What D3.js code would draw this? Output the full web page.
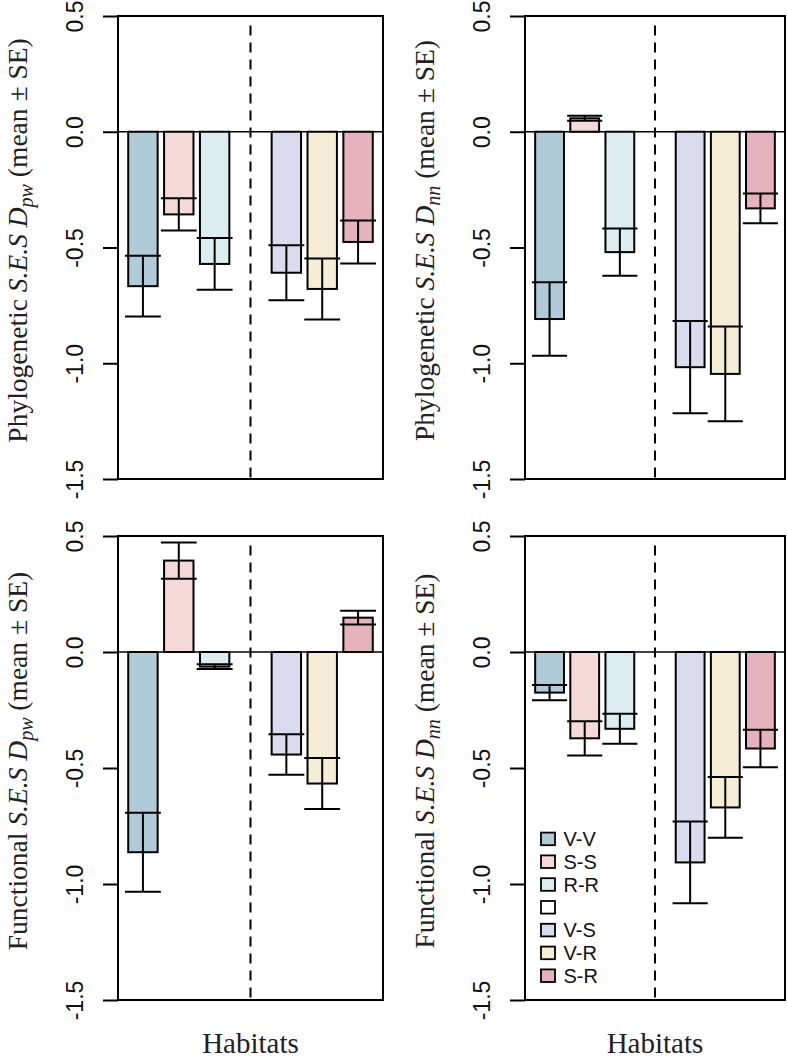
<!DOCTYPE html>
<html>
<head>
<meta charset="utf-8">
<script src="https://cdn.jsdelivr.net/npm/d3@7"></script>
<style>
  html, body { margin: 0; padding: 0; background: #ffffff; }
  svg { display: block; }
</style>
</head>
<body>
<div id="chart"></div>
<script>
// ---------------- data ----------------
const categories = ["V-V", "S-S", "R-R", "", "V-S", "V-R", "S-R"];
const colors = ["#aecbd7", "#f4d9d8", "#dcedef", "#ffffff", "#dadbee", "#f5eed5", "#e6b2be"];

const phyloPwMean = [-0.667, -0.357, -0.571, null, -0.609, -0.679, -0.476];
const phyloPwSE   = [0.131, 0.070, 0.112, null, 0.119, 0.132, 0.093];

const phyloNnMean = [-0.809, 0.058, -0.520, null, -1.017, -1.046, -0.331];
const phyloNnSE   = [0.159, 0.011, 0.102, null, 0.199, 0.205, 0.064];

const funcPwMean = [-0.863, 0.394, -0.063, null, -0.442, -0.567, 0.148];
const funcPwSE   = [0.170, 0.078, 0.010, null, 0.087, 0.110, 0.030];

const funcNnMean = [-0.175, -0.372, -0.331, null, -0.907, -0.670, -0.416];
const funcNnSE   = [0.033, 0.074, 0.065, null, 0.176, 0.131, 0.081];

const yTicks = [0.5, 0.0, -0.5, -1.0, -1.5];
const yTickLabels = ["0.5", "0.0", "-0.5", "-1.0", "-1.5"];
const yDomain = [-1.5, 0.5];

const xTitle = "Habitats";
const legendLabels = categories;

// ---------------- layout ----------------
const W = 787, H = 1062;
const panels = [
  { x0: 118, x1: 383, y0: 16,  y1: 479,  mean: phyloPwMean, se: phyloPwSE, lead: "Phylogenetic", sub: "pw", xlab: false, legend: false },
  { x0: 525, x1: 785, y0: 16,  y1: 479,  mean: phyloNnMean, se: phyloNnSE, lead: "Phylogenetic", sub: "nn", xlab: false, legend: false },
  { x0: 118, x1: 383, y0: 536, y1: 1000, mean: funcPwMean,  se: funcPwSE,  lead: "Functional",   sub: "pw", xlab: true,  legend: false },
  { x0: 525, x1: 785, y0: 536, y1: 1000, mean: funcNnMean,  se: funcNnSE,  lead: "Functional",   sub: "nn", xlab: true,  legend: true }
];

const svg = d3.select("#chart").append("svg")
  .attr("width", W).attr("height", H)
  .attr("viewBox", `0 0 ${W} ${H}`);

const sans = "'Liberation Sans', Arial, sans-serif";
const serif = "'Liberation Serif', 'Times New Roman', serif";

panels.forEach(p => {
  const g = svg.append("g");
  const y = d3.scaleLinear().domain(yDomain).range([p.y1, p.y0]);
  const x = d3.scaleBand().domain(d3.range(categories.length))
    .range([p.x0 + 7, p.x1 - 7]).paddingInner(0.18).paddingOuter(0.09);
  const bw = x.bandwidth();
  const capHalf = x.step() / 2;

  // zero line
  g.append("line")
    .attr("x1", p.x0).attr("x2", p.x1)
    .attr("y1", y(0)).attr("y2", y(0))
    .attr("stroke", "#000").attr("stroke-width", 1.4);

  // dashed separator at the empty slot
  const sepX = x(3) + bw / 2;
  g.append("line")
    .attr("x1", sepX).attr("x2", sepX)
    .attr("y1", p.y0 + 9.5).attr("y2", p.y1)
    .attr("stroke", "#000").attr("stroke-width", 2)
    .attr("stroke-dasharray", "10,7");

  const idx = d3.range(categories.length).filter(i => p.mean[i] !== null);

  // bars
  g.selectAll("rect.bar").data(idx).join("rect")
    .attr("class", "bar")
    .attr("x", i => x(i))
    .attr("width", bw)
    .attr("y", i => y(Math.max(0, p.mean[i])))
    .attr("height", i => Math.abs(y(p.mean[i]) - y(0)))
    .attr("fill", i => colors[i])
    .attr("stroke", "#000").attr("stroke-width", 2);

  // error bars
  const eb = g.selectAll("g.err").data(idx).join("g").attr("class", "err");
  eb.append("line")
    .attr("x1", i => x(i) + bw / 2).attr("x2", i => x(i) + bw / 2)
    .attr("y1", i => y(p.mean[i] - p.se[i])).attr("y2", i => y(p.mean[i] + p.se[i]))
    .attr("stroke", "#000").attr("stroke-width", 2);
  [-1, 1].forEach(s => {
    eb.append("line")
      .attr("x1", i => x(i) + bw / 2 - capHalf).attr("x2", i => x(i) + bw / 2 + capHalf)
      .attr("y1", i => y(p.mean[i] + s * p.se[i])).attr("y2", i => y(p.mean[i] + s * p.se[i]))
      .attr("stroke", "#000").attr("stroke-width", 2);
  });

  // y axis
  const ax = g.append("g").attr("transform", `translate(${p.x0},0)`)
    .call(d3.axisLeft(y).tickValues(yTicks).tickSize(15)
      .tickFormat((d, i) => yTickLabels[i]));
  ax.select(".domain").remove();
  ax.selectAll(".tick line").attr("stroke", "#000").attr("stroke-width", 2);
  ax.selectAll(".tick text")
    .attr("transform", "rotate(-90)")
    .attr("x", 0).attr("y", -35).attr("dy", 0)
    .attr("text-anchor", "middle")
    .attr("fill", "#111")
    .style("font-family", sans).style("font-size", "23px");

  // box
  g.append("rect")
    .attr("x", p.x0).attr("y", p.y0)
    .attr("width", p.x1 - p.x0).attr("height", p.y1 - p.y0)
    .attr("fill", "none").attr("stroke", "#000").attr("stroke-width", 2);

  // y label
  const t = g.append("text")
    .attr("transform", `translate(${p.x0 - 91},${(p.y0 + p.y1) / 2 - 7}) rotate(-90)`)
    .attr("text-anchor", "middle")
    .attr("fill", "#222")
    .style("font-family", serif).style("font-size", "27.5px");
  t.append("tspan").text(p.lead + " ");
  t.append("tspan").style("font-style", "italic").text("S.E.S D");
  t.append("tspan").style("font-style", "italic").style("font-size", "20px").attr("dy", 6).text(p.sub);
  t.append("tspan").attr("dy", -6).text(" (mean \u00B1 SE)");

  if (p.xlab) {
    g.append("text")
      .attr("x", (p.x0 + p.x1) / 2).attr("y", 1053)
      .attr("text-anchor", "middle")
      .attr("fill", "#222")
      .style("font-family", serif).style("font-size", "29px")
      .text(xTitle);
  }

  if (p.legend) {
    const rowH = 22.8;
    const lastY = p.y1 - 24.3;
    const firstY = lastY - rowH * (legendLabels.length - 1);
    const lg = g.append("g");
    legendLabels.forEach((lab, i) => {
      const cy = firstY + i * rowH;
      lg.append("rect")
        .attr("x", p.x0 + 16).attr("y", cy - 6.3)
        .attr("width", 14).attr("height", 12.6)
        .attr("fill", colors[i]).attr("stroke", "#000").attr("stroke-width", 1.8);
      if (lab) {
        lg.append("text")
          .attr("x", p.x0 + 38.5).attr("y", cy + 7)
          .attr("fill", "#111")
          .style("font-family", sans).style("font-size", "20px")
          .text(lab);
      }
    });
  }
});
</script>
</body>
</html>
